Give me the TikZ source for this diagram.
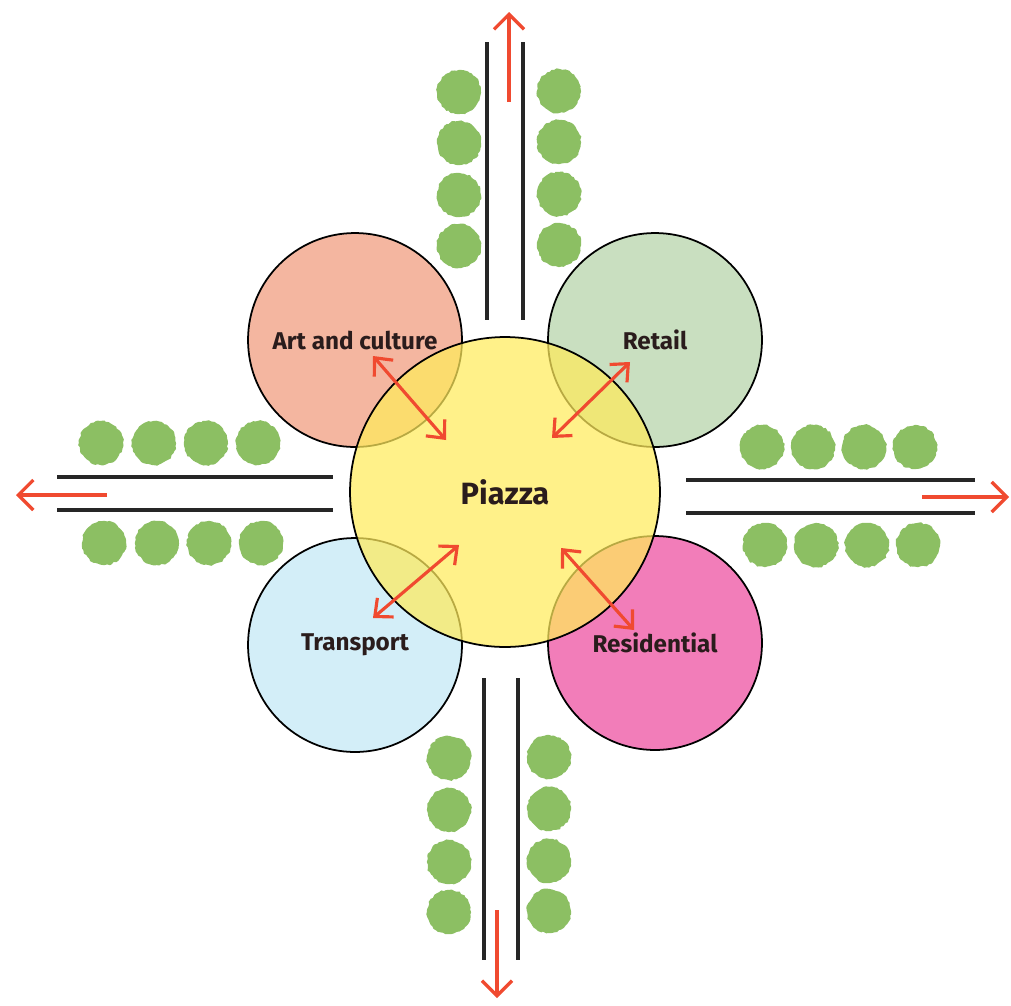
\documentclass[tikz,border=0pt]{standalone}
\usepackage{fontspec}
\setmainfont{Fira Sans}
\usepackage{tikz}
\usetikzlibrary{arrows.meta, decorations.pathmorphing}
\definecolor{artfill}{HTML}{F4B6A0}
\definecolor{retailfill}{HTML}{C9DFC0}
\definecolor{transfill}{HTML}{D3EEF8}
\definecolor{resfill}{HTML}{F27DB9}
\definecolor{piazzafill}{HTML}{FFEB5C}
\definecolor{treegreen}{HTML}{8CBF63}
\definecolor{linkred}{HTML}{F04A30}
\definecolor{inkdark}{HTML}{2A1C1C}
\tikzset{zone/.style = {shape = circle, draw = black, line width = 1pt, minimum size = 4.28cm, inner sep = 0pt, font = \bfseries\fontsize{13.8}{16}\selectfont, text = inkdark}}
\tikzset{hub/.style = {shape = circle, draw = black, line width = 1pt, minimum size = 6.2cm, fill = piazzafill, fill opacity = 0.72, text opacity = 1, font = \bfseries\fontsize{17.5}{21}\selectfont, text = inkdark}}
\tikzset{tree/.style = {shape = circle, fill = treegreen, minimum size = 0.88cm, inner sep = 0pt, decorate, decoration = {random steps, segment length = 1.5pt, amplitude = 0.5pt}}}
\tikzset{road/.style = {line width = 2.2pt, draw = black!85}}
\tikzset{exit/.style = {-{Straight Barb[length = 0.3cm, width = 0.6cm, line width = 1.9pt]}, line width = 1.9pt, draw = linkred}}
\tikzset{link/.style = {{Straight Barb[length = 0.28cm, width = 0.5cm, line width = 1.8pt]}-{Straight Barb[length = 0.28cm, width = 0.5cm, line width = 1.8pt]}, line width = 1.8pt, draw = linkred}}

\begin{document}
\begin{tikzpicture}[x = 0.02cm, y = -0.02cm]
	\useasboundingbox (0, 0) rectangle (1011, 1005);

	% land uses round the square
	\node[zone, fill = artfill] (art) at (355, 340) {Art and culture};
	\node[zone, fill = retailfill] (retail) at (655, 340) {Retail};
	\node[zone, fill = transfill] (transport) at (355, 645) {Transport};
	\node[zone, fill = resfill] (residential) at (655, 643) {Residential};
	\node[hub] (piazza) at (505, 492) {Piazza};

	% streets
	\draw[road] (487, 42) -- (487, 320);
	\draw[road] (523, 42) -- (523, 320);
	\draw[road] (484, 678) -- (484, 960);
	\draw[road] (518, 678) -- (518, 960);
	\draw[road] (57, 477) -- (333, 477);
	\draw[road] (57, 510) -- (333, 510);
	\draw[road] (686, 480) -- (975, 480);
	\draw[road] (686, 513) -- (975, 513);

	% street trees
	\foreach \y [count = \i] in {92, 143, 195, 246} {
		\node[tree] (tnw\i) at (459, \y) {};
		\node[tree] (tne\i) at (559, \y - 1) {};
	}
	\foreach \y [count = \i] in {758, 810, 862, 912} {
		\node[tree] (tsw\i) at (449, \y) {};
		\node[tree] (tse\i) at (549, \y - 1) {};
	}
	\foreach \x [count = \i] in {101, 154, 206, 258} {
		\node[tree] (twn\i) at (\x, 443) {};
		\node[tree] (tws\i) at (\x + 3, 543) {};
	}
	\foreach \x [count = \i] in {762, 813, 864, 915} {
		\node[tree] (ten\i) at (\x, 447) {};
		\node[tree] (tes\i) at (\x + 3, 545) {};
	}

	% ways out
	\coordinate (northin) at (509, 102);
	\coordinate (northout) at (509, 12);
	\coordinate (southin) at (497, 910);
	\coordinate (southout) at (497, 998);
	\coordinate (westin) at (107, 495);
	\coordinate (westout) at (16, 495);
	\coordinate (eastin) at (922, 497);
	\coordinate (eastout) at (1009, 497);
	\draw[exit] (northin) -- (northout);
	\draw[exit] (southin) -- (southout);
	\draw[exit] (westin) -- (westout);
	\draw[exit] (eastin) -- (eastout);

	% links with the piazza
	\coordinate (artend) at (373, 356);
	\coordinate (artpz) at (446, 440);
	\coordinate (retailend) at (630, 362);
	\coordinate (retailpz) at (552, 438);
	\coordinate (transend) at (373, 618);
	\coordinate (transpz) at (459, 545);
	\coordinate (resend) at (634, 630);
	\coordinate (respz) at (561, 548);
	\draw[link] (artend) -- (artpz);
	\draw[link] (retailend) -- (retailpz);
	\draw[link] (transend) -- (transpz);
	\draw[link] (resend) -- (respz);
\end{tikzpicture}
\end{document}
